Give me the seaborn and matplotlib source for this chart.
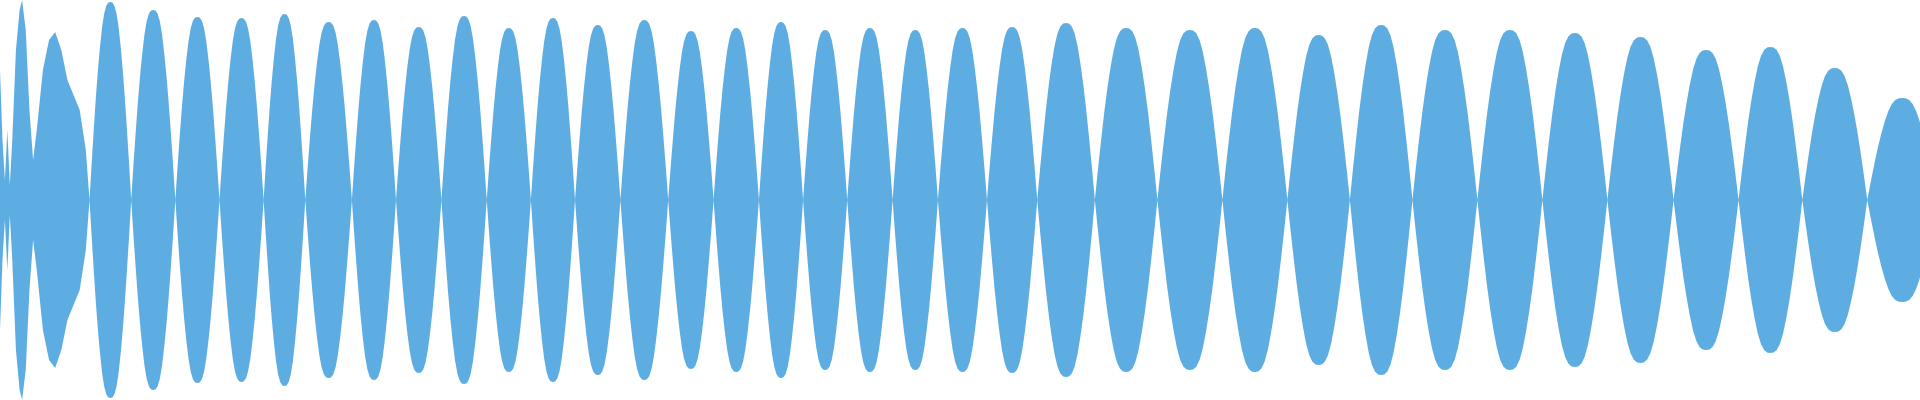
import numpy as np
import matplotlib
matplotlib.use("Agg")
import matplotlib.pyplot as plt
import seaborn as sns

# Head segment (irregular), explicit points: x, amplitude
head_x = [0, 2, 4, 6, 8, 10, 13, 16, 18, 21, 24, 27, 30, 35, 40, 45, 50, 55, 60, 65, 70, 73]
head_a = [130, 60, 20, 70, 15, 60, 150, 190, 200, 170, 90, 40, 70, 130, 160, 168, 150, 120, 105, 90, 50, 0]

# Regular lobes: zero crossings and peak amplitudes
crossings = [73, 107, 143, 179, 215, 249, 287, 323, 360, 397, 433, 469, 506, 545, 582,
             619, 655, 691, 728, 765, 805, 846, 893, 944, 997, 1050, 1101, 1152, 1205,
             1258, 1311, 1365, 1418, 1470, 1523, 1580]
peaks = [198, 190, 183, 182, 186, 178, 180, 173, 184, 172, 182, 175, 180, 169, 172,
         178, 170, 172, 170, 172, 173, 177, 172, 170, 172, 165, 175, 170, 170,
         167, 163, 150, 153, 132, 102]

# lobe profile (style): fraction of width -> fraction of peak
prof_t = [0, 0.05, 0.1, 0.15, 0.2, 0.25, 0.3, 0.35, 0.4, 0.45, 0.5,
          0.55, 0.6, 0.65, 0.7, 0.75, 0.8, 0.85, 0.9, 0.95, 1.0]
prof_v = [0, 0.18, 0.35, 0.51, 0.65, 0.77, 0.87, 0.94, 0.98, 0.997, 1.0,
          0.997, 0.98, 0.94, 0.87, 0.77, 0.65, 0.51, 0.35, 0.18, 0]

xs = list(head_x)
amps = list(head_a)
for i, p in enumerate(peaks):
    a, b = crossings[i], crossings[i + 1]
    for t, v in zip(prof_t[1:], prof_v[1:]):
        xs.append(a + t * (b - a))
        amps.append(p * v)
xs = np.array(xs); amps = np.array(amps)

sns.set_theme(style="white")
fig = plt.figure(figsize=(19.2, 4), dpi=100)
ax = fig.add_axes([0, 0, 1, 1])
ax.fill_between(xs, -amps, amps, color="#5DADE2", linewidth=0)
ax.set_xlim(0, 1566)
ax.set_ylim(-200, 200)
ax.axis("off")
fig.savefig("out.png", dpi=100)
